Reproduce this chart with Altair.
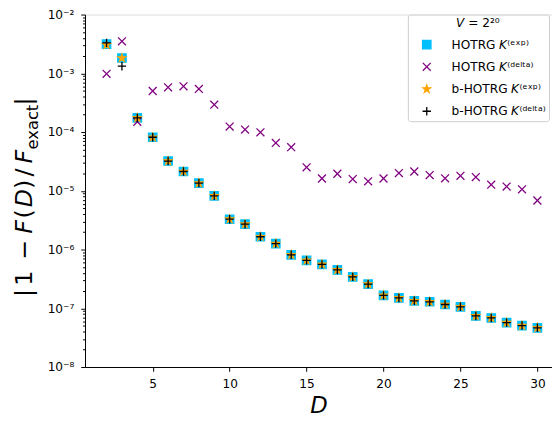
import math
import altair as alt
import pandas as pd

# ---------------- data ----------------
D = list(range(2, 31))
hotrg_exp = [3.13e-3, 1.82e-3, 1.74e-4, 8.15e-5, 3.21e-5, 2.13e-5, 1.35e-5, 8.18e-6,
             3.28e-6, 2.70e-6, 1.65e-6, 1.26e-6, 8.13e-7, 6.53e-7, 5.6e-7, 4.49e-7,
             3.42e-7, 2.58e-7, 1.66e-7, 1.50e-7, 1.34e-7, 1.29e-7, 1.16e-7, 1.06e-7,
             7.4e-8, 6.84e-8, 5.7e-8, 5.08e-8, 4.65e-8]
hotrg_delta = [9.8e-4, 3.5e-3, 1.49e-4, 5.0e-4, 5.78e-4, 6.0e-4, 5.42e-4, 2.92e-4,
               1.24e-4, 1.10e-4, 9.9e-5, 6.53e-5, 5.52e-5, 2.51e-5, 1.62e-5, 1.95e-5,
               1.58e-5, 1.45e-5, 1.62e-5, 2.0e-5, 2.13e-5, 1.85e-5, 1.63e-5, 1.80e-5,
               1.71e-5, 1.27e-5, 1.18e-5, 1.06e-5, 6.84e-6]
bhotrg_exp = [3.05e-3, 1.82e-3, 1.74e-4, 8.15e-5, 3.21e-5, 2.13e-5, 1.35e-5, 8.18e-6,
              3.28e-6, 2.70e-6, 1.65e-6, 1.26e-6, 8.13e-7, 6.53e-7, 5.6e-7, 4.49e-7,
              3.42e-7, 2.58e-7, 1.66e-7, 1.50e-7, 1.34e-7, 1.29e-7, 1.16e-7, 1.06e-7,
              7.4e-8, 6.84e-8, 5.7e-8, 5.08e-8, 4.65e-8]
bhotrg_delta = [3.3e-3, 1.32e-3, 1.74e-4, 8.15e-5, 3.21e-5, 2.13e-5, 1.35e-5, 8.18e-6,
                3.28e-6, 2.70e-6, 1.65e-6, 1.26e-6, 8.13e-7, 6.53e-7, 5.6e-7, 4.49e-7,
                3.42e-7, 2.58e-7, 1.66e-7, 1.50e-7, 1.34e-7, 1.29e-7, 1.16e-7, 1.06e-7,
                7.4e-8, 6.84e-8, 5.7e-8, 5.08e-8, 4.65e-8]

series_names = ["HOTRG 𝘒⁽ᵉˣᵖ⁾", "HOTRG 𝘒⁽ᵈᵉˡᵗᵃ⁾", "b-HOTRG 𝘒⁽ᵉˣᵖ⁾", "b-HOTRG 𝘒⁽ᵈᵉˡᵗᵃ⁾"]
legend_title = "𝘝 = 2²⁰"
x_ticks = [5, 10, 15, 20, 25, 30]
y_tick_labels = ["10⁻⁸", "10⁻⁷", "10⁻⁶", "10⁻⁵", "10⁻⁴", "10⁻³", "10⁻²"]

# ---------------- styles ----------------
colors = ["#00bfff", "#800080", "#ffa500", "#000000"]


def star_path(R=0.8, r=0.306):
    pts = []
    for i in range(10):
        ang = math.radians(-90 + 36 * i)
        rad = R if i % 2 == 0 else r
        pts.append((rad * math.cos(ang), rad * math.sin(ang)))
    return "M" + "L".join(f"{x:.3f},{y:.3f}" for x, y in pts) + "Z"


square_path = "M-0.85,-0.85L0.85,-0.85L0.85,0.85L-0.85,0.85Z"
x_path = "M-0.8,-0.8L0.8,0.8M-0.8,0.8L0.8,-0.8"
plus_path = "M-0.85,0L0.85,0M0,-0.85L0,0.85"
shapes = [square_path, x_path, star_path(), plus_path]

rows = []
for name, vals in zip(series_names, [hotrg_exp, hotrg_delta, bhotrg_exp, bhotrg_delta]):
    for d, v in zip(D, vals):
        rows.append({"D": d, "err": v, "series": name})
df = pd.DataFrame(rows)

FONT = "DejaVu Sans"
PX_PER_UNIT = 15.585
W, H = 473, 357
x0 = 0.6
x1 = x0 + W / PX_PER_UNIT

major_vals = [10.0 ** k for k in range(-8, -1)]
minor_vals = [m * 10.0 ** k for k in range(-8, -2) for m in range(2, 10)]
y_vals = sorted(major_vals + minor_vals)

is_major = "abs(log(datum.value)/LN10 - round(log(datum.value)/LN10)) < 0.01"
label_arr = "[" + ",".join(f"'{s}'" for s in y_tick_labels) + "]"
label_expr = f"{is_major} ? {label_arr}[round(log(datum.value)/LN10) + 8] : ''"

legend = alt.Legend(
    title=legend_title, orient="none", legendX=327, legendY=0,
    titleFont=FONT, titleFontSize=12.3, titleFontWeight="normal", titleColor="black",
    titleAnchor="middle", titlePadding=9,
    labelFont=FONT, labelFontSize=12.3, labelColor="black", labelOffset=19, labelLimit=0,
    symbolSize=100, symbolStrokeWidth=1.3, symbolOffset=10, symbolOpacity=1,
    rowPadding=8.5, padding=3, strokeColor="#cccccc", fillColor="rgba(255,255,255,0.8)",
    cornerRadius=3,
)

points = alt.Chart(df).mark_point(filled=True, size=100, strokeWidth=1.3, opacity=1).encode(
    x=alt.X("D:Q", scale=alt.Scale(domain=[x0, x1], nice=False, zero=False),
            axis=alt.Axis(values=x_ticks, title="D", titleFont=FONT, titleFontStyle="italic",
                          titleFontSize=23, titleFontWeight="normal", titleColor="black",
                          titlePadding=5, labelFont=FONT, labelFontSize=12.3, labelColor="black",
                          labelPadding=6, tickSize=4.3, tickColor="black", domainColor="black",
                          grid=False, labelFlush=False)),
    y=alt.Y("err:Q", scale=alt.Scale(type="log", domain=[1e-8, 1e-2], nice=False),
            axis=alt.Axis(values=y_vals, labelExpr=label_expr, title=None,
                          tickSize={"condition": {"test": is_major, "value": 4.3}, "value": 2.5},
                          labelFont=FONT, labelFontSize=12.3, labelColor="black",
                          labelPadding=7, labelOverlap=False, labelFlush=False,
                          tickColor="black", domainColor="black", grid=False)),
    fill=alt.Fill("series:N", scale=alt.Scale(domain=series_names, range=colors), legend=legend),
    stroke=alt.Stroke("series:N", scale=alt.Scale(domain=series_names, range=colors), legend=legend),
    shape=alt.Shape("series:N", scale=alt.Scale(domain=series_names, range=shapes), legend=legend),
)

# y-axis title |1 - F(D)/F_exact| built from pieces (rotated)
title_pieces = [
    ("|", 294, "normal", 24, 0), ("1", 279, "normal", 24, 0), ("−", 250, "normal", 24, 0),
    ("F", 227, "italic", 24, 0), ("(", 214, "normal", 24, 0), ("D", 198, "italic", 24, 0),
    (")", 184, "normal", 24, 0), ("/", 172, "normal", 24, 0), ("F", 156, "italic", 24, 0),
    ("exact", 126, "normal", 16.5, 6), ("|", 100, "normal", 24, 0),
]
layers = [points]
for txt, sy, style, fs, sub in title_pieces:
    layers.append(
        alt.Chart(alt.Data(values=[{"t": txt}])).mark_text(
            angle=270, align="center", baseline="alphabetic", font=FONT, fontSize=fs,
            fontStyle=style, color="black", dy=sub,
        ).encode(x=alt.value(32 - 86), y=alt.value(sy - 12), text="t:N")
    )

chart = alt.layer(*layers).properties(
    width=W, height=H,
    autosize=alt.AutoSizeParams(type="none"),
    padding={"left": 78, "top": 4, "right": 0, "bottom": 49},
).configure_view(stroke="black", strokeWidth=1).configure(font=FONT)

chart.save("out.html", embed_options={"renderer": "svg", "actions": False})
